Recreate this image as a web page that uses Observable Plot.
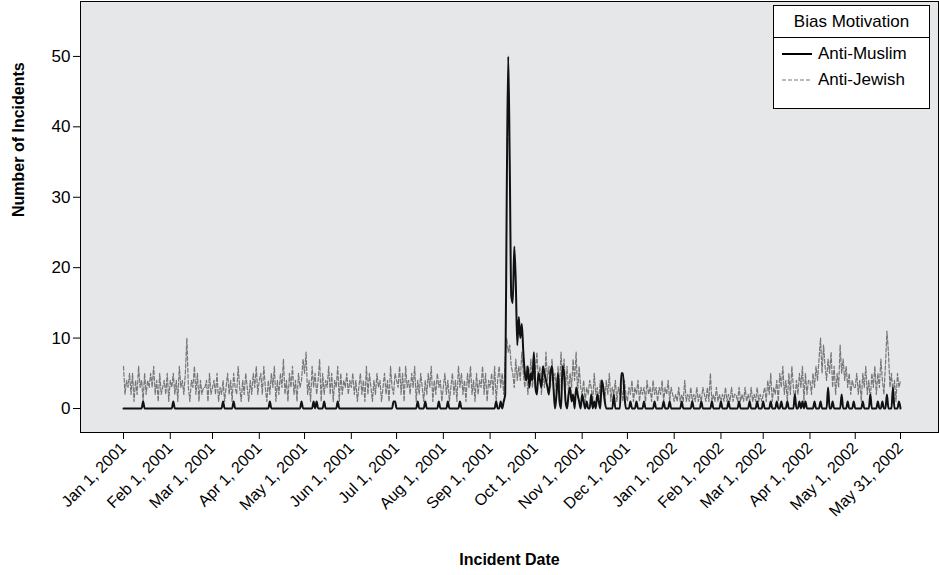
<html>
<head>
  <script src="https://cdn.jsdelivr.net/npm/d3@7"></script>
  <script src="https://cdn.jsdelivr.net/npm/@observablehq/plot@0.6"></script>
  <style>
    body { margin: 0; font-family: "Liberation Sans", Arial, sans-serif; }
    #wrap { position: relative; width: 939px; height: 575px; }
    #legend { position: absolute; left: 773px; top: 5px; width: 157px; height: 104px;
      border: 1px solid black; background: white; font-size: 17px; box-sizing: border-box; }
  </style>
</head>
<body>
  <div id="wrap">
    <div id="chart"></div>
    <div id="legend">
      <div style="text-align:center;border-bottom:1px solid black;padding:6px 0 5px">Bias Motivation</div>
      <div style="padding:6px 0 0 6px;display:flex;align-items:center">
        <svg width="34" height="10"><line x1="2" x2="32" y1="5" y2="5" stroke="black" stroke-width="2"/></svg>
        <span style="margin-left:4px">Anti-Muslim</span></div>
      <div style="padding:6px 0 0 6px;display:flex;align-items:center">
        <svg width="34" height="10"><line x1="2" x2="32" y1="5" y2="5" stroke="#777" stroke-width="1.2" stroke-dasharray="4,2"/></svg>
        <span style="margin-left:4px">Anti-Jewish</span></div>
    </div>
  </div>
  <script>
    // daily anti-jewish counts, one string per month (a=10, b=11)
    const jewishMonths = [
      "6243525142 6341524353 6241523425 1",
      "4352416342 5a31436251 42334152",
      "3425132413 5241532631 4253142536 2",
      "4526314253 6142537241 5362415347",
      "5824163524 7152436251 4361524352 4",
      "3524135241 6253142534 1352416325",
      "4362516342 5361425314 2536142534 1",
      "3524135241 6352415362 4152436251 4",
      "3526146352 7a89653746 4853624735",
      "5846253846 3745263847 3625374826 3",
      "2413243152 3142314251 3241323142",
      "1324132413 2314231423 1324132413 2",
      "1213121412 1312131213 2131512131 2",
      "1213121312 2131213121 31213121",
      "2314251324 1536241526 3142536152 4",
      "4253647a59 6475836253 9574635243",
      "3524153624 1536253742 6b83524153 4"
    ];
    // anti-muslim: days since Jan 1 2001 with nonzero counts
    const muslimDays = [13,33,66,73,97,118,126,128,133,142,179,180,195,200,209,215,223,247,250,252,253,
      254,255,256,257,258,259,260,261,262,263,264,265,266,267,268,269,270,271,272,273,274,275,276,277,278,279,
      280,281,282,283,284,285,287,288,289,291,292,293,295,296,297,298,300,301,302,304,305,307,310,312,314,315,
      317,318,319,325,330,331,332,336,340,345,352,358,362,370,377,383,390,396,401,408,415,420,424,429,433,436,
      440,445,448,450,452,458,462,467,470,476,480,484,490,495,500,503,506,510,514];
    const muslimVals = [1,1,1,1,1,1,1,1,1,1,1,1,1,1,1,1,1,1,1,1,2,
      30,50,35,16,15,23,18,9,13,10,12,8,5,4,6,3,5,4,8,3,2,5,4,3,6,5,
      4,3,2,5,6,3,2,5,1,6,5,1,2,3,1,2,3,2,1,2,1,1,2,1,2,1,
      4,3,1,2,5,5,2,1,1,1,1,1,1,1,1,1,1,1,1,1,1,1,1,1,1,1,
      1,2,1,1,1,1,1,3,1,2,1,1,1,2,1,1,2,3,1,3,1];
    const tickLabels = ["Jan 1, 2001","Feb 1, 2001","Mar 1, 2001","Apr 1, 2001","May 1, 2001","Jun 1, 2001",
      "Jul 1, 2001","Aug 1, 2001","Sep 1, 2001","Oct 1, 2001","Nov 1, 2001","Dec 1, 2001","Jan 1, 2002",
      "Feb 1, 2002","Mar 1, 2002","Apr 1, 2002","May 1, 2002","May 31, 2002"];

    const start = new Date(2001, 0, 1);
    const jewish = jewishMonths.join("").replace(/ /g, "").split("").map(c => parseInt(c, 36));
    const muslim = new Array(516).fill(0);
    muslimDays.forEach((d, i) => muslim[d] = muslimVals[i]);
    const day = i => d3.timeDay.offset(start, i);
    const jData = jewish.map((v, i) => ({date: day(i), n: v}));
    const mData = muslim.map((v, i) => ({date: day(i), n: v}));
    const ticks = tickLabels.map(t => new Date(t));

    const chart = Plot.plot({
      width: 939, height: 575,
      marginLeft: 80, marginRight: 1, marginTop: 1, marginBottom: 143,
      style: {fontFamily: "Liberation Sans, Arial, sans-serif", color: "black"},
      x: {type: "time", domain: [start, day(515)], insetLeft: 43, insetRight: 38},
      y: {domain: [0, 57.8], insetBottom: 24},
      marks: [
        Plot.frame({fill: "#e6e7e9", stroke: "black"}),
        Plot.axisX({ticks, tickFormat: d3.timeFormat("%b %-d, %Y"), tickRotate: -45, tickSize: 7, fontSize: 16, label: null}),
        Plot.axisY({ticks: [0,10,20,30,40,50], tickSize: 7, fontSize: 17, label: null}),
        Plot.lineY(jData, {x: "date", y: "n", stroke: "#777", strokeWidth: 1.2, strokeDasharray: "4,2"}),
        Plot.lineY(mData, {x: "date", y: "n", stroke: "#111", strokeWidth: 2, curve: "monotone-x"}),
        Plot.text(["Incident Date"], {frameAnchor: "bottom", dy: 132, fontWeight: "bold", fontSize: 16}),
        Plot.text(["Number of Incidents"], {frameAnchor: "left", dx: -62, rotate: -90, fontWeight: "bold", fontSize: 16})
      ]
    });
    document.getElementById("chart").appendChild(chart);
  </script>
</body>
</html>
